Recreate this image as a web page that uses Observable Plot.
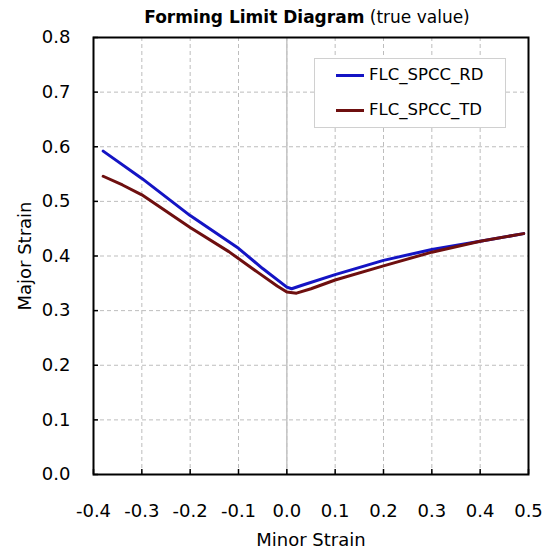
<!DOCTYPE html>
<html><head><meta charset="utf-8">
<script src="https://cdn.jsdelivr.net/npm/d3@7"></script>
<script src="https://cdn.jsdelivr.net/npm/@observablehq/plot@0.6"></script>
<style>
body{margin:0;background:#fff}
#chart{position:relative;width:554px;height:548px;font-family:'DejaVu Sans',sans-serif;color:#000}
#title{position:absolute;left:90px;width:434px;top:9px;text-align:center;font-size:17px;line-height:17px;white-space:nowrap}
#legend{position:absolute;left:314px;top:58px;width:190px;height:68px;border:1px solid #d0d0d0;background:#fff}
.lg-line{position:absolute;left:21px;width:28px;height:3px}
.lg-text{position:absolute;left:54px;font-size:16.5px;line-height:20px;white-space:nowrap}
</style>
</head><body>
<div id="chart"><div id="title"><b>Forming Limit Diagram</b> (true value)</div></div>
<script>
const seriesNames = ["FLC_SPCC_RD", "FLC_SPCC_TD"];
const seriesColors = ["#1414c4", "#6e0f0f"];
const rdMinor = [-0.38, -0.3, -0.2, -0.1, -0.05, 0.0, 0.01, 0.03, 0.1, 0.2, 0.3, 0.4, 0.49];
const rdMajor = [0.592, 0.542, 0.474, 0.414, 0.377, 0.343, 0.340, 0.346, 0.366, 0.392, 0.412, 0.427, 0.441];
const tdMinor = [-0.38, -0.34, -0.3, -0.2, -0.12, -0.06, -0.02, 0.0, 0.02, 0.05, 0.1, 0.2, 0.3, 0.4, 0.49];
const tdMajor = [0.546, 0.530, 0.512, 0.452, 0.408, 0.370, 0.345, 0.334, 0.332, 0.340, 0.356, 0.382, 0.407, 0.427, 0.441];
const xTicks = [-0.4, -0.3, -0.2, -0.1, 0.0, 0.1, 0.2, 0.3, 0.4, 0.5];
const yTicks = [0.0, 0.1, 0.2, 0.3, 0.4, 0.5, 0.6, 0.7, 0.8];

const data = [
  ...rdMinor.map((x, i) => ({series: seriesNames[0], x, y: rdMajor[i]})),
  ...tdMinor.map((x, i) => ({series: seriesNames[1], x, y: tdMajor[i]}))
];
const fmt = d => d.toFixed(1);
const gridStyle = {stroke: "#bdbdbd", strokeOpacity: 1, strokeDasharray: "4,3"};

const plot = Plot.plot({
  width: 554, height: 548,
  marginLeft: 93, marginRight: 26, marginTop: 37, marginBottom: 74,
  style: {fontFamily: "'DejaVu Sans', sans-serif", fontSize: "18px", background: "transparent", color: "#000", overflow: "visible"},
  x: {domain: [-0.4, 0.5]},
  y: {domain: [0, 0.8]},
  color: {domain: seriesNames, range: seriesColors},
  marks: [
    Plot.gridX(xTicks, gridStyle),
    Plot.gridY(yTicks, gridStyle),
    Plot.ruleX([0], {stroke: "#c4c4c4", strokeWidth: 1.5}),
    Plot.line(data, {x: "x", y: "y", z: "series", stroke: "series", strokeWidth: 3}),
    Plot.frame({stroke: "#000", strokeWidth: 2}),
    Plot.axisX(xTicks, {tickSize: -5, strokeWidth: 1.5, tickFormat: () => "", label: null}),
    Plot.axisY(yTicks, {tickSize: -5, strokeWidth: 1.5, tickFormat: () => "", label: null}),
    Plot.axisX(xTicks, {tickSize: 0, tickPadding: 30, tickFormat: fmt, label: "Minor Strain", labelAnchor: "center", labelOffset: 71, labelArrow: "none"}),
    Plot.axisY(yTicks, {tickSize: 0, tickPadding: 23, tickFormat: fmt, label: "Major Strain", labelAnchor: "center", labelOffset: 75, labelArrow: "none"})
  ]
});
const chart = document.getElementById("chart");
chart.insertBefore(plot, chart.firstChild);

const legend = d3.select(chart).append("div").attr("id", "legend");
const rowY = [16, 51];
seriesNames.forEach((name, i) => {
  legend.append("div").attr("class", "lg-line")
    .style("top", (rowY[i] - 1.5) + "px").style("background", seriesColors[i]);
  legend.append("div").attr("class", "lg-text")
    .style("top", (rowY[i] - 10) + "px").text(name);
});
</script>
</body></html>
